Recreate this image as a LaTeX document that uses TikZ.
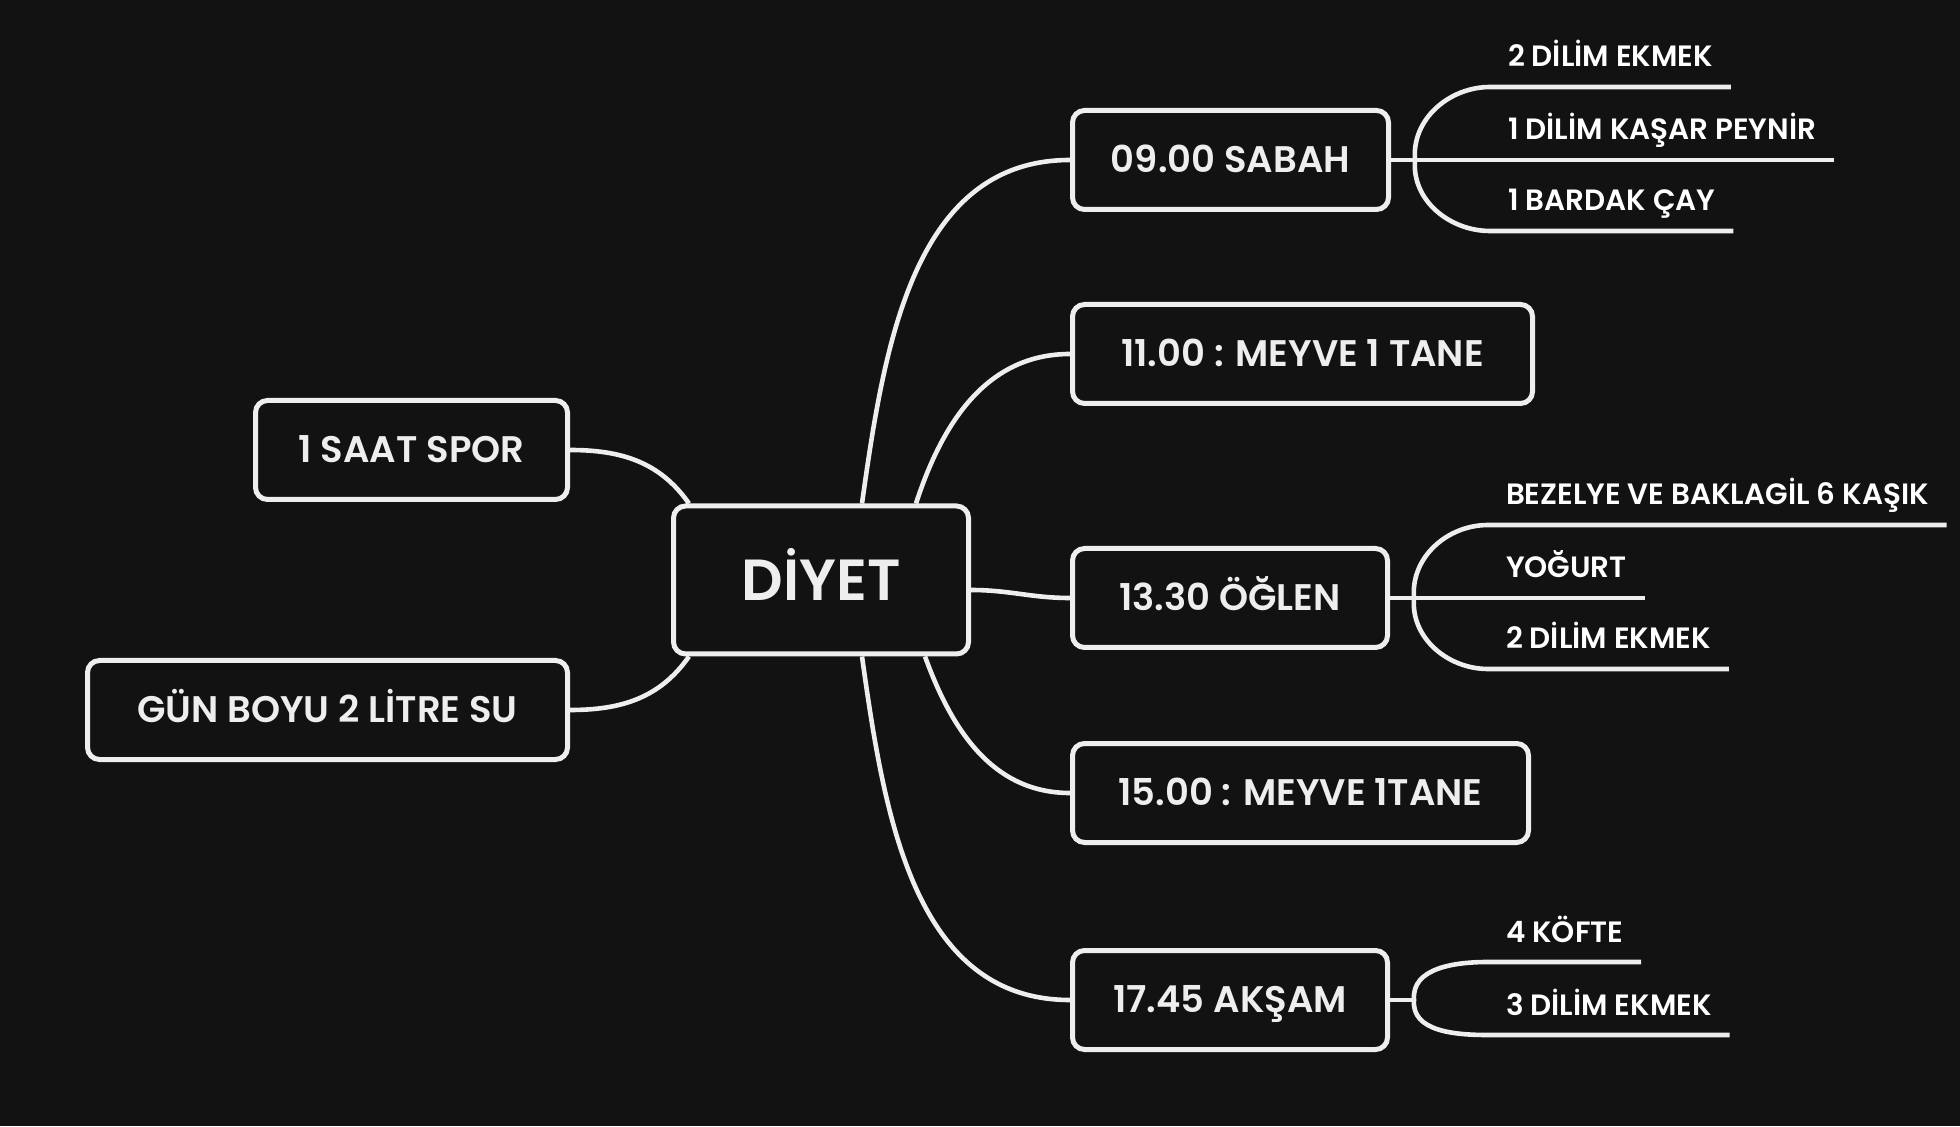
\documentclass[tikz,border=0pt]{standalone}
\usepackage{fontspec}
\setmainfont{Poppins}[UprightFont={* Medium}, BoldFont={* SemiBold}]
\usetikzlibrary{positioning}
\definecolor{bgdark}{HTML}{121212}
\definecolor{inkwhite}{HTML}{EEEEEE}
\tikzset{
  topic/.style={draw=inkwhite, line width=2.5pt, rounded corners=6pt, fill=bgdark,
    text=inkwhite, font=\bfseries\fontsize{18.5}{22}\selectfont,
    text height=12.9pt, text depth=0pt,
    minimum height=49.5pt, inner sep=0pt, anchor=west},
  rootbox/.style={topic, anchor=center, minimum height=74pt,
    font=\bfseries\fontsize{29}{34}\selectfont, text height=20.2pt},
  leaf/.style={anchor=south west, text=white, font=\bfseries\fontsize{14.7}{17}\selectfont,
    inner xsep=9pt, inner ysep=10pt, text depth=0pt, outer sep=0pt},
  link/.style={draw=inkwhite, line width=2.3pt},
}
\begin{document}
\begin{tikzpicture}[x=0.5pt,y=0.5pt]
\fill[bgdark] (0,0) rectangle (1960,1126);
\useasboundingbox (0,0) rectangle (1960,1126);

% main topics
\node[rootbox, minimum width=147.5pt] (diyet) at (821,546) {DİYET};
\node[topic, minimum width=158pt] (sabah) at (1070,966) {09.00 SABAH};
\node[topic, minimum width=230pt] (meyve1) at (1070,772) {11.00 : MEYVE 1 TANE};
\node[topic, minimum width=157.5pt] (oglen) at (1070,528) {13.30 ÖĞLEN};
\node[topic, minimum width=228pt] (meyve2) at (1070,333) {15.00 : MEYVE 1TANE};
\node[topic, minimum width=157.5pt] (aksam) at (1070,126) {17.45 AKŞAM};
\node[topic, anchor=east, minimum width=156pt] (spor) at (570,676) {1 SAAT SPOR};
\node[topic, anchor=east, minimum width=240pt] (su) at (570,416) {GÜN BOYU 2 LİTRE SU};

\draw[link] ([xshift=20.5pt]diyet.north) to[out=82,in=180] (sabah.west);
\draw[link] ([xshift=47.5pt]diyet.north) to[out=72,in=180] (meyve1.west);
\draw[link] ([yshift=-5pt]diyet.east) to[out=0,in=180] (oglen.west);
\draw[link] ([xshift=52pt]diyet.south) to[out=-70,in=180] (meyve2.west);
\draw[link] ([xshift=20.5pt]diyet.south) to[out=-82,in=180] (aksam.west);
\draw[link] (spor.east) to[out=0,in=125] ([xshift=-66pt]diyet.north);
\draw[link] (su.east) to[out=0,in=-125] ([xshift=-66pt]diyet.south);

% sabah items
\draw[link] (sabah.east) -- ++(12pt,0) coordinate (sabahfork);
\node[leaf] (sabah1) at (1490,1039) {2 DİLİM EKMEK};
\node[leaf] (sabah2) at (1490,966) {1 DİLİM KAŞAR PEYNİR};
\node[leaf] (sabah3) at (1490,895) {1 BARDAK ÇAY};
\draw[link] (sabahfork) to[out=95,in=180] (sabah1.south west) -- (sabah1.south east);
\draw[link] (sabahfork) -- (sabah2.south west) -- (sabah2.south east);
\draw[link] (sabahfork) to[out=-95,in=180] (sabah3.south west) -- (sabah3.south east);

% ogle items
\draw[link] (oglen.east) -- ++(12pt,0) coordinate (oglenfork);
\node[leaf] (oglen1) at (1488,601) {BEZELYE VE BAKLAGİL 6 KAŞIK};
\node[leaf] (oglen2) at (1488,528) {YOĞURT};
\node[leaf] (oglen3) at (1488,457) {2 DİLİM EKMEK};
\draw[link] (oglenfork) to[out=95,in=180] (oglen1.south west) -- (oglen1.south east);
\draw[link] (oglenfork) -- (oglen2.south west) -- (oglen2.south east);
\draw[link] (oglenfork) to[out=-95,in=180] (oglen3.south west) -- (oglen3.south east);

% aksam items
\draw[link] (aksam.east) -- ++(12pt,0) coordinate (aksamfork);
\node[leaf] (aksam1) at (1488,164) {4 KÖFTE};
\node[leaf] (aksam2) at (1488,91) {3 DİLİM EKMEK};
\draw[link] (aksamfork) to[out=95,in=180] (aksam1.south west) -- (aksam1.south east);
\draw[link] (aksamfork) to[out=-95,in=180] (aksam2.south west) -- (aksam2.south east);
\end{tikzpicture}
\end{document}
